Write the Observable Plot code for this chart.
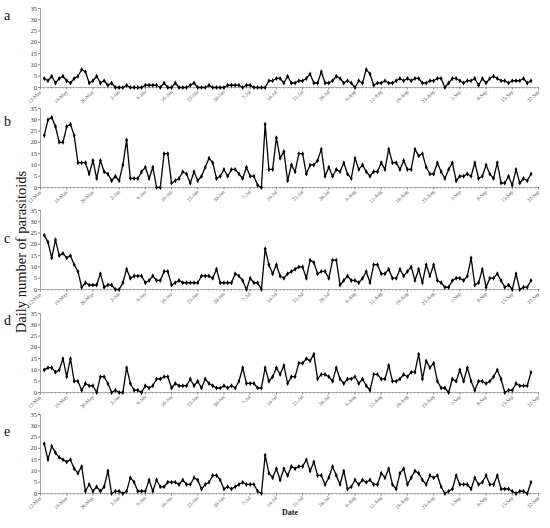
<!DOCTYPE html>
<html>
<head>
<meta charset="utf-8">
<script src="https://cdn.jsdelivr.net/npm/d3@7"></script>
<script src="https://cdn.jsdelivr.net/npm/@observablehq/plot@0.6"></script>
<style>
  html, body { margin: 0; padding: 0; background: #fff; }
  #chart { position: relative; width: 550px; height: 528px; font-family: "Liberation Serif", "DejaVu Serif", serif; }
  .letter { position: absolute; left: 4px; font-size: 14px; color: #111; line-height: 1; }
  .ytitle { position: absolute; left: 21px; top: 252px; transform: translate(-50%, -50%) rotate(-90deg); white-space: nowrap; font-size: 14.5px; color: #111; }
  .xtitle { position: absolute; left: 290px; top: 512px; transform: translate(-50%, -50%); font-size: 8px; font-weight: bold; color: #111; }
  .panel { position: absolute; left: 0; }
</style>
</head>
<body>
<div id="chart"></div>
<script>
// ---- data ----
const year = 2015;
const firstDataDay = "13-May";
const tickLabels = ["12-May","19-May","26-May","2-Jun","9-Jun","16-Jun","23-Jun","30-Jun","7-Jul","14-Jul",
  "21-Jul","28-Jul","4-Aug","11-Aug","18-Aug","25-Aug","1-Sep","8-Sep","15-Sep","22-Sep"];
const yTicks = [0, 5, 10, 15, 20, 25, 30, 35];
const panelLetters = ["a", "b", "c", "d", "e"];

const seriesA = [4,3,5,2,4,5,3,2,4,5, 8,7,2,3,5,2,3,1,2,0, 0,0,1,0,0,0,0,1,1,1, 1,0,2,0,0,2,0,0,0,1,
  2,0,0,0,1,0,0,0,0,1, 1,1,1,0,1,1,0,0,0,0, 3,
  3,4,4,2,5,2,2,3,3,4, 6,2,2,7,2,2,3,5,4,2, 3,2,0,3,2,8,6,1,2,2, 3,2,2,3,4,3,4,3,4,4,
  2,2,3,3,4,4,0,2,4,4, 3,2,3,3,4,1,4,2,4,5, 4,3,3,2,3,3,3,4,2,3];
const seriesB = [23,30,31,27,20,20,27,28,23,11, 11,11,6,12,4,12,7,6,3,5, 3,10,21,4,4,4,7,9,4,9,
  0,0,15,15,2,3,4,7,6,2, 7,3,5,9,13,11,4,5,8,5, 8,8,6,4,9,5,5,1,0,28, 8,
  8,22,13,16,3,10,7,15,15,6, 10,10,12,17,5,9,5,8,7,11, 6,4,13,8,10,7,5,7,7,11, 8,17,11,11,8,12,8,8,17,14,
  15,9,6,6,11,7,4,8,11,3, 5,5,6,5,11,4,5,10,6,4, 11,2,2,5,1,8,2,4,3,6];
const seriesC = [24,21,14,22,15,16,14,15,11,8, 1,3,2,2,2,7,1,2,2,0, 0,3,9,5,6,6,6,3,4,6, 4,4,8,8,2,3,4,3,3,3,
  3,3,6,6,6,5,9,3,3,3, 3,7,6,4,0,5,3,3,0,18, 11,
  7,11,6,5,7,8,9,10,10,5, 13,12,7,8,8,5,13,13,2,4, 6,4,4,3,5,8,3,11,11,7, 7,9,5,5,9,6,8,10,4,9,
  3,11,6,11,4,3,1,1,4,5, 5,4,6,14,2,3,9,1,5,5, 7,4,1,2,0,7,0,1,1,4];
const seriesD = [10,11,11,9,10,15,7,15,5,5, 1,4,3,3,0,7,7,4,0,1, 0,0,11,4,1,1,0,3,2,3, 6,6,7,7,2,4,3,3,3,6,
  3,5,2,6,4,3,2,2,3,2, 3,2,5,11,4,4,4,2,2,11, 5,
  7,11,8,12,4,7,7,13,13,15, 14,17,6,8,8,7,5,11,6,4, 6,6,7,4,6,3,1,8,8,6, 6,12,5,5,6,8,7,9,9,17,
  6,14,11,13,5,2,2,0,6,5, 10,5,11,5,1,5,5,4,5,7, 10,6,0,1,1,4,3,3,3,9];
const seriesE = [22,15,21,18,16,15,14,15,11,9, 12,1,4,1,3,1,3,10,0,1, 1,0,1,7,5,1,1,1,6,1, 6,3,3,5,5,5,4,6,4,4,
  7,6,2,4,5,8,8,6,2,3, 2,3,4,5,4,4,4,1,0, 17,
  9,7,11,6,11,8,12,11,12,12, 15,10,14,8,8,4,7,12,8,4, 10,2,3,6,4,6,5,6,4,4, 9,7,11,4,2,9,11,4,7,10,
  9,6,4,8,7,8,3,0,1,2, 8,4,4,4,2,7,4,5,8,4, 4,8,2,2,2,1,0,1,1,0, 5];

const allSeries = [seriesA, seriesB, seriesC, seriesD, seriesE];

// ---- layout ----
const panelTops = [2, 102, 204, 307, 408];
const letterTops = [9, 115, 232, 314, 425];

const parse = d3.utcParse("%d-%b-%Y");
const tickDates = tickLabels.map(l => parse(l + "-" + year));
const labelByTime = new Map(tickDates.map((d, i) => [+d, tickLabels[i]]));
const start = parse(firstDataDay + "-" + year);
const xDomain = [tickDates[0], tickDates[tickDates.length - 1]];
const everyDay = d3.utcDay.range(xDomain[0], d3.utcDay.offset(xDomain[1], 1));

const chart = document.getElementById("chart");

allSeries.forEach((values, k) => {
  const data = values.map((v, i) => ({date: d3.utcDay.offset(start, i), value: v}));
  const svg = Plot.plot({
    width: 550,
    height: 102,
    marginLeft: 40,
    marginRight: 12,
    marginTop: 6,
    marginBottom: 17,
    x: {type: "utc", domain: xDomain},
    y: {domain: [0, 35]},
    style: {fontFamily: "Liberation Serif, serif", background: "transparent", overflow: "visible"},
    marks: [
      Plot.ruleX([xDomain[0]], {y1: 0, y2: 35, stroke: "#888", strokeWidth: 0.8}),
      Plot.ruleY([0], {stroke: "#999", strokeWidth: 0.8}),
      Plot.ruleX(everyDay, {x: d => d, y1: 0, y2: -0.8, stroke: "#999", strokeWidth: 0.6}),
      Plot.axisY({ticks: yTicks, tickSize: 2, tickPadding: 1.5, fontSize: 6.5, fill: "#333", stroke: "#888", label: null}),
      Plot.axisX({ticks: tickDates, tickFormat: d => labelByTime.get(+d), tickRotate: -45, tickSize: 2.5, tickPadding: 1,
                  fontSize: 5.2, fill: "#555", stroke: "#888", label: null}),
      Plot.line(data, {x: "date", y: "value", stroke: "#000", strokeWidth: 1.3}),
      Plot.dot(data, {x: "date", y: "value", r: 1.5, fill: "#000", symbol: "diamond"})
    ]
  });
  svg.classList.add("panel");
  svg.style.top = panelTops[k] + "px";
  chart.appendChild(svg);

  const lt = document.createElement("div");
  lt.className = "letter";
  lt.style.top = letterTops[k] + "px";
  lt.textContent = panelLetters[k];
  chart.appendChild(lt);
});

const yt = document.createElement("div");
yt.className = "ytitle";
yt.textContent = "Daily number of parasitoids";
chart.appendChild(yt);

const xt = document.createElement("div");
xt.className = "xtitle";
xt.textContent = "Date";
chart.appendChild(xt);
</script>
</body>
</html>
